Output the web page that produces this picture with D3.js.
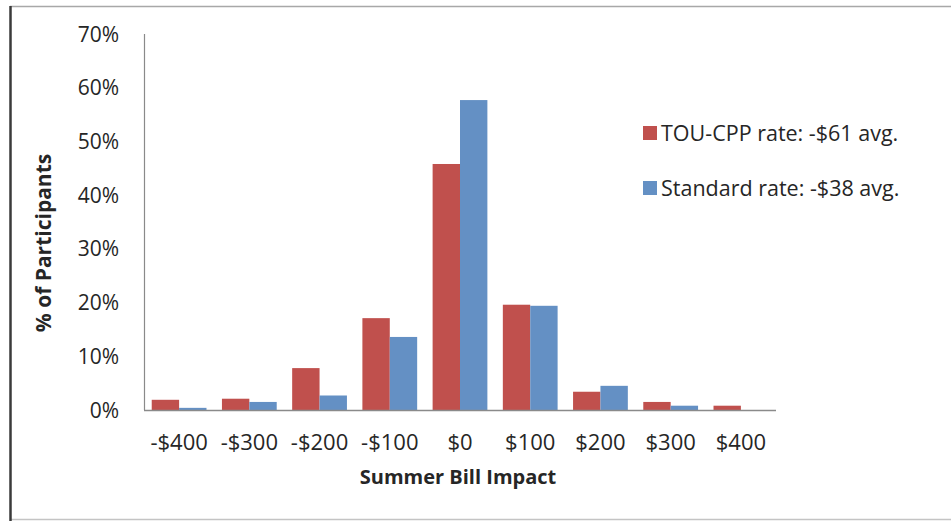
<!DOCTYPE html>
<html>
<head>
<meta charset="utf-8">
<script src="https://cdn.jsdelivr.net/npm/d3@7"></script>
<style>
  html, body { margin: 0; padding: 0; background: #fff; }
  svg { display: block; }
  text { font-family: "Open Sans", "DejaVu Sans", sans-serif; fill: #262626; }
</style>
</head>
<body>
<svg id="chart" width="951" height="521"></svg>
<script>
const categories = ["-$400", "-$300", "-$200", "-$100", "$0", "$100", "$200", "$300", "$400"];
const seriesNames = ["TOU-CPP rate: -$61 avg.", "Standard rate: -$38 avg."];
const touValues = [1.9, 2.1, 7.8, 17.1, 45.8, 19.6, 3.4, 1.5, 0.8];
const stdValues = [0.4, 1.5, 2.7, 13.6, 57.7, 19.4, 4.5, 0.8, 0];
const yTicks = [0, 10, 20, 30, 40, 50, 60, 70];
const colors = ["#c0504d", "#6490c4"];

const svg = d3.select("#chart");
const W = 951, H = 521;

// frame
svg.append("line").attr("x1", 10).attr("x2", W).attr("y1", 6.5).attr("y2", 6.5)
  .attr("stroke", "#a8a8a8").attr("stroke-width", 1.5);
svg.append("line").attr("x1", 10).attr("x2", W).attr("y1", 519.5).attr("y2", 519.5)
  .attr("stroke", "#c4c4c4").attr("stroke-width", 1.5);
svg.append("line").attr("x1", 10.5).attr("x2", 10.5).attr("y1", 6).attr("y2", H)
  .attr("stroke", "#3a3a3a").attr("stroke-width", 2.5);

const plot = { left: 144, right: 776, top: 34, bottom: 410 };

const x = d3.scaleBand().domain(categories).range([plot.left, plot.right])
  .paddingInner(0.22).paddingOuter(0.11);
const xs = d3.scaleBand().domain([0, 1]).range([0, x.bandwidth()]).padding(0);
const y = d3.scaleLinear().domain([0, 70]).range([plot.bottom, plot.top]);

const rows = categories.map((c, i) => ({ c, vals: [touValues[i], stdValues[i]] }));

const g = svg.append("g");
const groups = g.selectAll("g.cat").data(rows).join("g")
  .attr("transform", d => `translate(${x(d.c)},0)`);
groups.selectAll("rect").data(d => d.vals.map((v, k) => ({ v, k }))).join("rect")
  .attr("x", d => xs(d.k))
  .attr("width", xs.bandwidth())
  .attr("y", d => y(d.v))
  .attr("height", d => y(0) - y(d.v))
  .attr("fill", d => colors[d.k]);

// y axis line
svg.append("line").attr("x1", plot.left + 0.5).attr("x2", plot.left + 0.5)
  .attr("y1", plot.top).attr("y2", plot.bottom).attr("stroke", "#8a8a8a").attr("stroke-width", 1.2);
// x axis line
svg.append("line").attr("x1", plot.left).attr("x2", plot.right)
  .attr("y1", plot.bottom + 0.5).attr("y2", plot.bottom + 0.5).attr("stroke", "#8a8a8a").attr("stroke-width", 1.5);

// y tick labels
svg.append("g").selectAll("text").data(yTicks).join("text")
  .attr("x", 119).attr("y", d => y(d)).attr("dy", "0.36em")
  .attr("text-anchor", "end").style("font-size", "21px")
  .text(d => d + "%");

// x tick labels
svg.append("g").selectAll("text").data(categories).join("text")
  .attr("x", d => x(d) + x.bandwidth() / 2).attr("y", 442).attr("dy", "0.36em")
  .attr("text-anchor", "middle").style("font-size", "22px")
  .text(d => d);

// axis titles
svg.append("text").attr("x", 458).attr("y", 477).attr("dy", "0.36em")
  .attr("text-anchor", "middle").style("font-size", "20px").style("font-weight", "bold")
  .text("Summer Bill Impact");
svg.append("text").attr("transform", "translate(43,243) rotate(-90)").attr("dy", "0.36em")
  .attr("text-anchor", "middle").style("font-size", "21px").style("font-weight", "bold")
  .text("% of Participants");

// legend
const leg = svg.append("g");
const legY = [133, 188];
seriesNames.forEach((name, k) => {
  leg.append("rect").attr("x", 643).attr("y", legY[k] - 7).attr("width", 14).attr("height", 14)
    .attr("fill", colors[k]);
  leg.append("text").attr("x", 661).attr("y", legY[k]).attr("dy", "0.36em")
    .style("font-size", "21.5px").text(name);
});
</script>
</body>
</html>
